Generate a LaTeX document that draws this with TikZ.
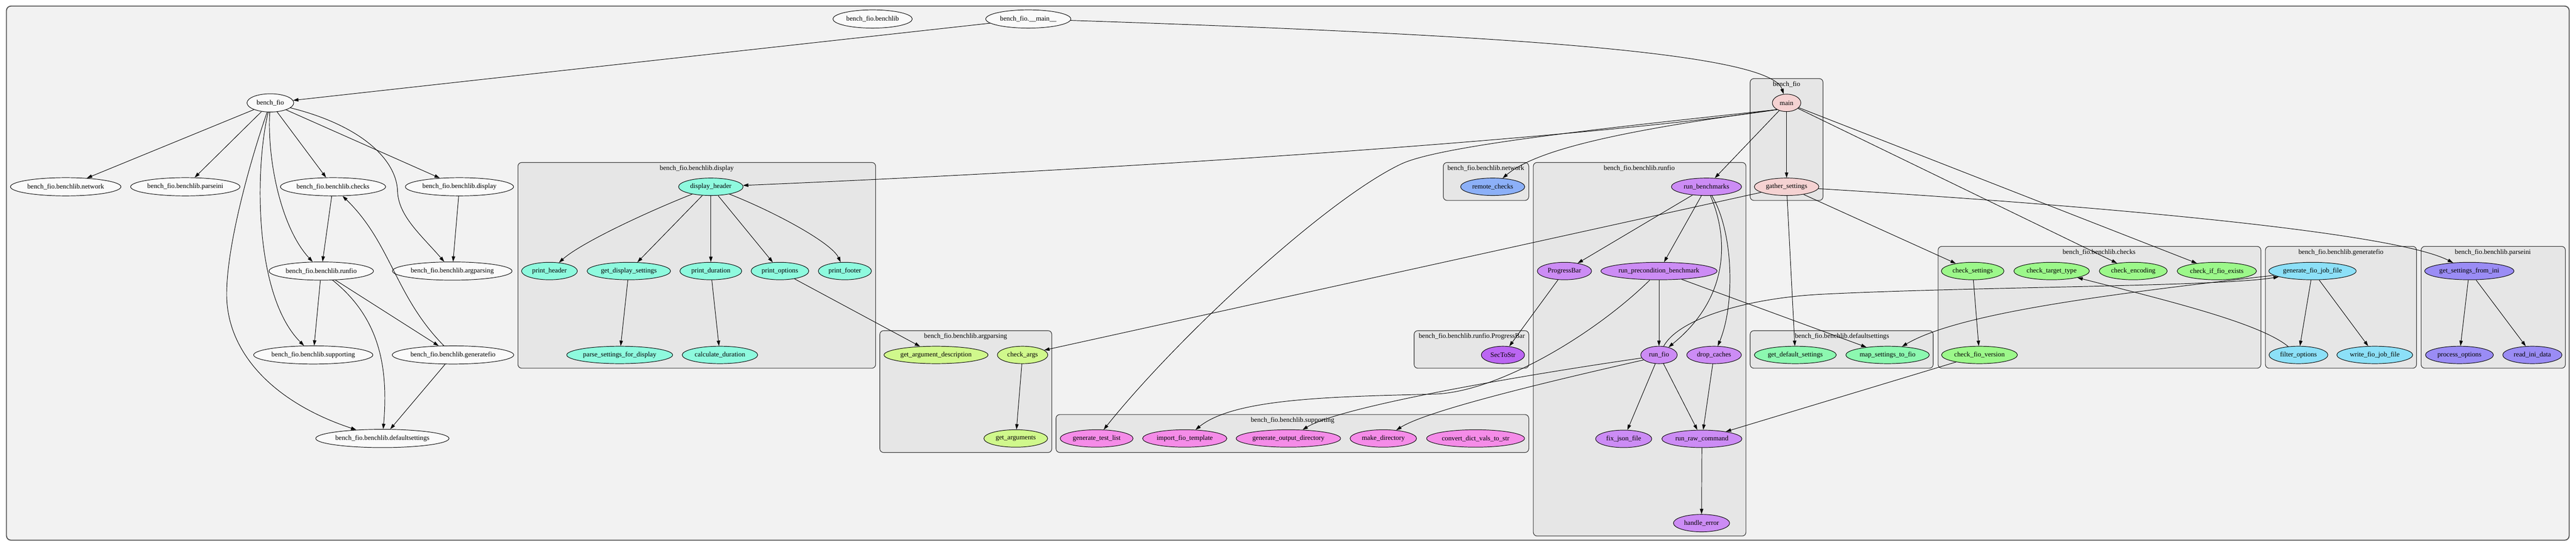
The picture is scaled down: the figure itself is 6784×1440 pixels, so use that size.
\documentclass[tikz,border=0pt]{standalone}
\usepackage{fontspec}
\setmainfont{Liberation Serif}
\usetikzlibrary{shapes.geometric,arrows.meta}
\definecolor{outerfill}{HTML}{F2F2F2}
\definecolor{outerline}{HTML}{505050}
\definecolor{clfill}{HTML}{E6E6E6}
\definecolor{clline}{HTML}{303030}
\definecolor{modfill}{HTML}{FAFAFA}
\definecolor{cdisp}{HTML}{8EFADE}
\definecolor{carg}{HTML}{D0F88C}
\definecolor{cnet}{HTML}{8CB0F8}
\definecolor{crun}{HTML}{CC8CF5}
\definecolor{csec}{HTML}{BB66F3}
\definecolor{csup}{HTML}{F58CE8}
\definecolor{cbf}{HTML}{F5D2D2}
\definecolor{cdef}{HTML}{8CF8B0}
\definecolor{cchk}{HTML}{9CF88A}
\definecolor{cgen}{HTML}{8CE0F8}
\definecolor{cini}{HTML}{9A8CF5}
\newcommand{\gvfont}{\fontsize{18pt}{20pt}\selectfont}
\begin{document}
\begin{tikzpicture}[x=1pt,y=-1pt,
  nd/.style={ellipse, draw=black, line width=1.3pt, inner sep=0pt, minimum height=46pt, font=\gvfont},
  mod/.style={nd, fill=modfill, minimum height=48pt},
  fdisp/.style={nd, fill=cdisp}, farg/.style={nd, fill=carg}, fnet/.style={nd, fill=cnet},
  frun/.style={nd, fill=crun}, fsec/.style={nd, fill=csec}, fsup/.style={nd, fill=csup},
  fbf/.style={nd, fill=cbf}, fdef/.style={nd, fill=cdef}, fchk/.style={nd, fill=cchk},
  fgen/.style={nd, fill=cgen}, fini/.style={nd, fill=cini},
  e/.style={-{Triangle[length=14pt,width=9pt]}, line width=1.3pt, draw=black},
  outerbox/.style={draw=outerline, line width=2.5pt, fill=outerfill, rounded corners=12pt},
  clus/.style={draw=clline, line width=1.5pt, fill=clfill, rounded corners=10pt},
  clab/.style={anchor=base, font=\gvfont, inner sep=0pt}]
\useasboundingbox (0,0) rectangle (6784,1440);
% clusters
\draw[outerbox] (17,16) rectangle (6766,1423);
\draw[clus] (1364,428) rectangle (2306,970);
\node[clab] (ldisp) at (1835,448) {bench\_fio.benchlib.display};
\draw[clus] (2317,871) rectangle (2770,1192);
\node[clab] (larg) at (2543,891) {bench\_fio.benchlib.argparsing};
\draw[clus] (2781,1092) rectangle (4026,1192);
\node[clab] (lsup) at (3404,1112) {bench\_fio.benchlib.supporting};
\draw[clus] (3801,428) rectangle (4026,528);
\node[clab] (lnet) at (3913,448) {bench\_fio.benchlib.network};
\draw[clus] (3724,871) rectangle (4026,970);
\node[clab] (lpb) at (3876,891) {bench\_fio.benchlib.runfio.ProgressBar};
\draw[clus] (4038,428) rectangle (4598,1412);
\node[clab] (lrun) at (4317,448) {bench\_fio.benchlib.runfio};
\draw[clus] (4609,207) rectangle (4801,528);
\node[clab] (lbf) at (4705,227) {bench\_fio};
\draw[clus] (4609,871) rectangle (5091,970);
\node[clab] (ldef) at (4851,891) {bench\_fio.benchlib.defaultsettings};
\draw[clus] (5104,649) rectangle (5954,970);
\node[clab] (lchk) at (5528,669) {bench\_fio.benchlib.checks};
\draw[clus] (5966,649) rectangle (6364,970);
\node[clab] (lgen) at (6165,669) {bench\_fio.benchlib.generatefio};
\draw[clus] (6376,649) rectangle (6756,970);
\node[clab] (lini) at (6565,669) {bench\_fio.benchlib.parseini};
% module nodes
\node[mod, minimum width=123pt] (mb) at (712,271) {bench\_fio};
\node[mod, minimum width=291pt] (mnet) at (173,492) {bench\_fio.benchlib.network};
\node[mod, minimum width=288pt] (mini) at (488,492) {bench\_fio.benchlib.parseini};
\node[mod, minimum width=277pt] (mchk) at (877,492) {bench\_fio.benchlib.checks};
\node[mod, minimum width=285pt] (mdisp) at (1210,492) {bench\_fio.benchlib.display};
\node[mod, minimum width=275pt] (mrun) at (846,714) {bench\_fio.benchlib.runfio};
\node[mod, minimum width=315pt] (marg) at (1191,714) {bench\_fio.benchlib.argparsing};
\node[mod, minimum width=314pt] (msup) at (825,935) {bench\_fio.benchlib.supporting};
\node[mod, minimum width=320pt] (mgen) at (1193,935) {bench\_fio.benchlib.generatefio};
\node[mod, minimum width=351pt] (mdef) at (1007,1155) {bench\_fio.benchlib.defaultsettings};
\node[mod, minimum width=209pt] (mlib) at (2298,50) {bench\_fio.benchlib};
\node[mod, minimum width=224pt] (mmain) at (2708,50) {bench\_fio.\_\_main\_\_};
% display
\node[fdisp, minimum width=170pt] (dh) at (1872,492) {display\_header};
\node[fdisp, minimum width=147pt] (ph) at (1447,714) {print\_header};
\node[fdisp, minimum width=220pt] (gds) at (1656,714) {get\_display\_settings};
\node[fdisp, minimum width=163pt] (pd) at (1872,714) {print\_duration};
\node[fdisp, minimum width=152pt] (po) at (2054,714) {print\_options};
\node[fdisp, minimum width=140pt] (pf) at (2225,714) {print\_footer};
\node[fdisp, minimum width=279pt] (psd) at (1632,935) {parse\_settings\_for\_display};
\node[fdisp, minimum width=199pt] (cd) at (1896,935) {calculate\_duration};
% argparsing
\node[farg, minimum width=274pt] (gad) at (2465,935) {get\_argument\_description};
\node[farg, minimum width=133pt] (ca) at (2693,935) {check\_args};
\node[farg, minimum width=168pt] (ga) at (2675,1155) {get\_arguments};
% network, progressbar
\node[fnet, minimum width=169pt] (rc) at (3931,492) {remote\_checks};
\node[fsec, minimum width=114pt] (sts) at (3958,935) {SecToStr};
% supporting
\node[fsup, minimum width=192pt] (gtl) at (2888,1155) {generate\_test\_list};
\node[fsup, minimum width=222pt] (ift) at (3120,1155) {import\_fio\_template};
\node[fsup, minimum width=275pt] (god) at (3393,1155) {generate\_output\_directory};
\node[fsup, minimum width=175pt] (md) at (3643,1155) {make\_directory};
\node[fsup, minimum width=258pt] (cdv) at (3886,1155) {convert\_dict\_vals\_to\_str};
% runfio
\node[frun, minimum width=185pt] (rb) at (4494,492) {run\_benchmarks};
\node[frun, minimum width=143pt] (pb) at (4120,714) {ProgressBar};
\node[frun, minimum width=306pt] (rpb) at (4369,714) {run\_precondition\_benchmark};
\node[frun, minimum width=96pt] (rf) at (4369,935) {run\_fio};
\node[frun, minimum width=144pt] (dc) at (4514,935) {drop\_caches};
\node[frun, minimum width=148pt] (fj) at (4276,1156) {fix\_json\_file};
\node[frun, minimum width=211pt] (rrc) at (4482,1156) {run\_raw\_command};
\node[frun, minimum width=148pt] (he) at (4481,1378) {handle\_error};
% bench_fio
\node[fbf, minimum width=75pt] (mn) at (4705,271) {main};
\node[fbf, minimum width=170pt] (gs) at (4705,492) {gather\_settings};
% defaultsettings
\node[fdef, minimum width=216pt] (gdf) at (4728,935) {get\_default\_settings};
\node[fdef, minimum width=220pt] (msf) at (4971,935) {map\_settings\_to\_fio};
% checks
\node[fchk, minimum width=165pt] (cs) at (5195,714) {check\_settings};
\node[fchk, minimum width=199pt] (ctt) at (5403,714) {check\_target\_type};
\node[fchk, minimum width=179pt] (ce) at (5618,714) {check\_encoding};
\node[fchk, minimum width=209pt] (cife) at (5838,714) {check\_if\_fio\_exists};
\node[fchk, minimum width=200pt] (cfv) at (5213,935) {check\_fio\_version};
% generatefio
\node[fgen, minimum width=230pt] (gfj) at (6090,714) {generate\_fio\_job\_file};
\node[fgen, minimum width=155pt] (fo) at (6053,935) {filter\_options};
\node[fgen, minimum width=200pt] (wfj) at (6254,935) {write\_fio\_job\_file};
% parseini
\node[fini, minimum width=235pt] (gsi) at (6503,714) {get\_settings\_from\_ini};
\node[fini, minimum width=179pt] (pro) at (6477,935) {process\_options};
\node[fini, minimum width=156pt] (rid) at (6669,935) {read\_ini\_data};
% module edges
\draw[e] (mmain) -- (mb);
\draw[e] (mmain) .. controls (3900,90) and (4660,135) .. (mn);
\draw[e] (mb) -- (mnet);
\draw[e] (mb) -- (mini);
\draw[e] (mb) -- (mchk);
\draw[e] (mb) -- (mdisp);
\draw[e] (mb) .. controls (950,330) and (1045,420) .. (1047,505) .. controls (1050,570) and (1110,620) .. (marg);
\draw[e] (mb) .. controls (703,420) and (740,600) .. (mrun);
\draw[e] (mb) .. controls (670,450) and (670,780) .. (msup);
\draw[e] (mb) .. controls (660,420) and (595,650) .. (597,781) .. controls (600,930) and (720,1060) .. (mdef);
\draw[e] (mchk) -- (mrun);
\draw[e] (mdisp) -- (marg);
\draw[e] (mrun) -- (msup);
\draw[e] (mrun) -- (mgen);
\draw[e] (mrun) .. controls (990,830) and (1025,950) .. (mdef);
\draw[e] (mgen) .. controls (1040,780) and (1030,640) .. (mchk);
\draw[e] (mgen) -- (mdef);
% function edges
\draw[e] (mn) -- (gs);
\draw[e] (mn) -- (rb);
\draw[e] (mn.215) .. controls (4250,355) and (3100,440) .. (dh);
\draw[e] (mn.215) .. controls (4300,330) and (3800,380) .. (3690,432) .. controls (3490,527) and (3100,890) .. (gtl);
\draw[e] (mn.215) .. controls (4300,340) and (4050,390) .. (rc);
\draw[e] (mn) -- (ce);
\draw[e] (mn) -- (cife);
\draw[e] (gs) -- (cs);
\draw[e] (gs) .. controls (5500,540) and (6300,610) .. (gsi);
\draw[e] (gs) -- (gdf);
\draw[e] (gs) -- (ca);
\draw[e] (rb) -- (pb);
\draw[e] (rb) -- (rpb);
\draw[e] (rb) .. controls (4550,620) and (4560,780) .. (rf);
\draw[e] (rb) .. controls (4565,610) and (4570,800) .. (dc);
\draw[e] (pb) -- (sts);
\draw[e] (rpb) -- (rf);
\draw[e] (rpb) -- (msf);
\draw[e] (rpb) .. controls (4200,880) and (3950,1030) .. (3782,1038) .. controls (3500,1045) and (3250,1050) .. (ift);
\draw[e] (rf.190) .. controls (4100,975) and (3540,1065) .. (god);
\draw[e] (rf.198) .. controls (4100,1000) and (3760,1080) .. (md);
\draw[e] (rf) -- (fj);
\draw[e] (rf) -- (rrc);
\draw[e] (dc) -- (rrc);
\draw[e] (rrc) -- (he);
\draw[e] (cfv) -- (rrc);
\draw[e] (cs) -- (cfv);
\draw[e] (gfj) -- (fo);
\draw[e] (gfj) -- (wfj);
\draw[e] (gsi) -- (pro);
\draw[e] (gsi) -- (rid);
\draw[e] (fo) .. controls (5950,850) and (5700,790) .. (ctt);
\draw[e] (rf) .. controls (4420,840) and (4600,785) .. (4800,775) .. controls (5200,755) and (5850,755) .. (gfj);
\draw[e] (gfj) .. controls (5500,780) and (5150,830) .. (msf);
\draw[e] (po) -- (gad);
\draw[e] (dh) .. controls (1700,560) and (1530,640) .. (ph);
\draw[e] (dh) -- (gds);
\draw[e] (dh) -- (pd);
\draw[e] (dh) -- (po);
\draw[e] (dh) .. controls (2044,560) and (2190,640) .. (pf);
\draw[e] (gds) -- (psd);
\draw[e] (pd) -- (cd);
\draw[e] (ca) -- (ga);
\end{tikzpicture}
\end{document}
